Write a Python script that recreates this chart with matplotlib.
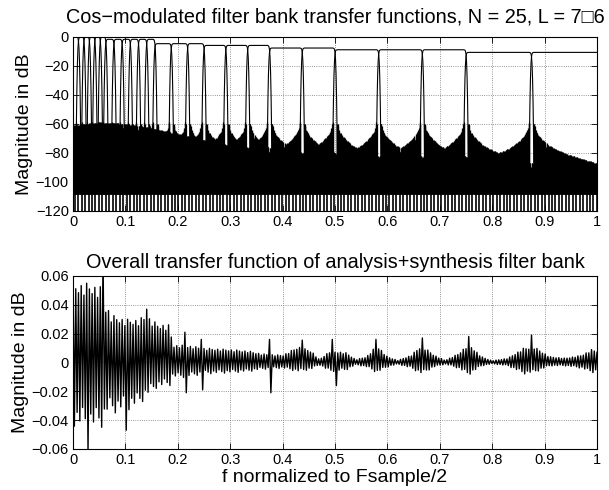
import numpy as np
import matplotlib.pyplot as plt

plt.rcParams['font.family'] = ['Liberation Sans', 'DejaVu Sans']
plt.rcParams['font.size'] = 10.5

# ---- top panel: 25 channel band edges (f / (Fs/2)) and passband gains (dB)
band_edges = [0, 1/96, 2/96, 3/96, 4/96, 5/96, 6/96,
              5/64, 6/64, 7/64, 8/64, 9/64, 10/64,
              6/32, 7/32, 8/32,
              7/24, 8/24, 9/24,
              7/16, 8/16,
              7/12, 8/12, 9/12,
              7/8, 1.0]
band_gain_db = [0, 0, 0, 0, 0, 0,
                -1.8, -1.8, -1.8, -1.8, -1.8, -1.8,
                -4.8, -4.8, -4.8,
                -6.0, -6.0, -6.0,
                -7.8, -7.8,
                -9.0, -9.0, -9.0,
                -10.8, -10.8]

# transition skirt: offset from band edge -> drop in dB
skirt_off = [-0.004, -0.002, -0.001, 0.0, 0.001, 0.002, 0.003, 0.0038, 0.0045]
skirt_drop = [0, 0.3, 1, 3, 8, 18, 35, 55, 85]
slot_half = 0.0036

# stopband sidelobe level: apex next to the skirt, decay with distance
apex_db = -56
lobe_dist = [0, 0.002, 0.005, 0.01, 0.02, 0.03, 0.045, 0.065, 0.1, 0.13, 1.0]
lobe_drop = [0, 5, 9, 12, 16, 19, 22, 25, 29, 32, 45]
# background level of the sidelobe mass (bottom of the white slots)
base_f = [0, 0.05, 0.1, 0.15, 0.2, 0.25, 0.3, 0.4, 0.5, 0.6, 0.75, 0.875, 1.0]
base_db = [-61, -59, -60, -63, -67, -71, -75, -80, -83, -86, -88, -90, -91]
stop_floor = -108
comb_step = 0.0066

# ---- bottom panel: ripple envelope (upper / lower magnitude)
rip_f = [0, 0.03, 0.057, 0.065, 0.1, 0.125, 0.14, 0.16, 0.185, 0.19, 0.215,
         0.25, 0.3, 0.335, 0.36, 0.4, 0.43, 0.455, 0.47, 0.49, 0.52, 0.54,
         0.56, 0.58, 0.6, 0.62, 0.645, 0.665, 0.69, 0.71, 0.735, 0.755,
         0.78, 0.8, 0.83, 0.86, 0.88, 0.91, 0.94, 0.97, 0.99, 1.0]
rip_up = [0.055, 0.055, 0.052, 0.034, 0.030, 0.030, 0.033, 0.027, 0.026, 0.012,
          0.012, 0.010, 0.009, 0.008, 0.006, 0.005, 0.011, 0.008, 0.002, 0.008,
          0.007, 0.002, 0.004, 0.012, 0.004, 0.0015, 0.005, 0.012, 0.005, 0.0015,
          0.006, 0.013, 0.004, 0.0012, 0.003, 0.010, 0.011, 0.004, 0.003, 0.005,
          0.009, 0.008]
rip_lo = [0.055, 0.058, 0.056, 0.045, 0.042, 0.038, 0.030, 0.022, 0.020, 0.013,
          0.013, 0.010, 0.009, 0.008, 0.006, 0.005, 0.008, 0.006, 0.002, 0.008,
          0.007, 0.002, 0.004, 0.009, 0.004, 0.0015, 0.005, 0.010, 0.004, 0.0015,
          0.005, 0.011, 0.003, 0.0012, 0.003, 0.010, 0.009, 0.003, 0.003, 0.005,
          0.009, 0.008]
spike_f = [0.031, 0.059, 0.07, 0.1, 0.141, 0.215, 0.217, 0.245, 0.247,
           0.373, 0.375, 0.44, 0.497, 0.5, 0.58, 0.665, 0.755, 0.875]
spike_val = [-0.062, 0.075, 0.036, -0.047, 0.037, 0.021, -0.021, 0.016, -0.019,
             0.016, -0.021, 0.0155, 0.016, -0.016, 0.016, 0.017, 0.018, 0.019]
rip_pattern = [1.0, 0.8, 0.93, 0.62, 0.88, 0.72, 0.97, 0.55, 0.85, 0.68]

xticks = np.arange(0, 1.01, 0.1)
xticklabels = ['0', '0.1', '0.2', '0.3', '0.4', '0.5', '0.6', '0.7', '0.8', '0.9', '1']
top_yticks = [-120, -100, -80, -60, -40, -20, 0]
top_yticklabels = ['\u2212120', '\u2212100', '\u221280', '\u221260', '\u221240', '\u221220', '0']
bot_yticks = [-0.06, -0.04, -0.02, 0, 0.02, 0.04, 0.06]
bot_yticklabels = ['\u22120.06', '\u22120.04', '\u22120.02', '0', '0.02', '0.04', '0.06']

fig = plt.figure(figsize=(6.09, 4.90), dpi=100)
ax1 = fig.add_axes([0.1199, 0.5694, 0.8604, 0.3557])
ax2 = fig.add_axes([0.1199, 0.0837, 0.8604, 0.3531])

# ---------------- top panel
f = np.linspace(0, 1, 1537)
base = np.interp(f, base_f, base_db)
mass_top = np.full(f.size, -np.inf)
for k in range(len(band_gain_db)):
    a, b, g = band_edges[k], band_edges[k + 1], band_gain_db[k]
    d = np.full(f.size, np.inf)
    if a > 0:
        dl = (a - slot_half) - f
        d = np.where(dl >= 0, np.minimum(d, dl), d)
    if b < 1:
        dr = f - (b + slot_half)
        d = np.where(dr >= 0, np.minimum(d, dr), d)
    inside = np.isfinite(d)
    env = np.maximum(apex_db - np.interp(np.where(inside, d, 0), lobe_dist, lobe_drop), base)
    mass_top = np.maximum(mass_top, np.where(inside, env, -np.inf))

    xs, ys = [], []
    if a > 0:
        xs += [a - o for o in skirt_off[::-1]]
        ys += [g - s for s in skirt_drop[::-1]]
    else:
        xs += [0.0]
        ys += [g]
    if b < 1:
        xs += [b + o for o in skirt_off]
        ys += [g - s for s in skirt_drop]
    else:
        xs += [1.0]
        ys += [g]
    ax1.plot(xs, ys, color='k', lw=0.8, zorder=3)

# sidelobe mass drawn as dense vertical strokes with a ragged top
rag = np.where((np.arange(f.size) // 2) % 2 == 0, 0.0, 3.0)
mass_top = np.where(np.isfinite(mass_top), mass_top, stop_floor)
ax1.vlines(f, stop_floor, mass_top - rag, color='k', lw=0.9, zorder=2)
comb = np.arange(comb_step / 2, 1, comb_step)
ax1.vlines(comb, -120, stop_floor + 1, color='k', lw=1.2, zorder=2)

ax1.set_xlim(0, 1)
ax1.set_ylim(-120, 0)
ax1.set_xticks(xticks)
ax1.set_xticklabels(xticklabels)
ax1.set_yticks(top_yticks)
ax1.set_yticklabels(top_yticklabels)
ax1.set_ylabel('Magnitude in dB', fontsize=14, labelpad=2)
ax1.set_title('Cos\u2212modulated filter bank transfer functions, N = 25, L = 7\u25a16',
              fontsize=14.3, pad=10)

# ---------------- bottom panel
fz = np.arange(0, 1 + 1e-9, 1 / 384)
sgn = np.where(np.arange(fz.size) % 2 == 0, 1.0, -1.0)
pat = np.resize(np.array(rip_pattern), fz.size)
amp = np.where(sgn > 0, np.interp(fz, rip_f, rip_up), np.interp(fz, rip_f, rip_lo))
rip = sgn * amp * pat
for sf, sv in zip(spike_f, spike_val):
    cand = np.where(np.sign(sv) == sgn)[0]
    rip[cand[np.argmin(np.abs(fz[cand] - sf))]] = sv
ax2.plot(fz, rip, color='k', lw=1.0)

ax2.set_xlim(0, 1)
ax2.set_ylim(-0.06, 0.06)
ax2.set_xticks(xticks)
ax2.set_xticklabels(xticklabels)
ax2.set_yticks(bot_yticks)
ax2.set_yticklabels(bot_yticklabels)
ax2.set_ylabel('Magnitude in dB', fontsize=14, labelpad=2)
ax2.set_xlabel('f normalized to Fsample/2', fontsize=14, labelpad=1)
ax2.set_title('Overall transfer function of analysis+synthesis filter bank',
              fontsize=14.3, pad=6)

for ax in (ax1, ax2):
    ax.set_axisbelow(True)
    ax.grid(True, linestyle=':', color='0.45', lw=0.6)
    ax.tick_params(direction='in', top=True, right=True, length=4, width=0.6,
                   labelsize=10.5, pad=3)
    for s in ax.spines.values():
        s.set_linewidth(0.8)

fig.savefig('out.png', dpi=100)
